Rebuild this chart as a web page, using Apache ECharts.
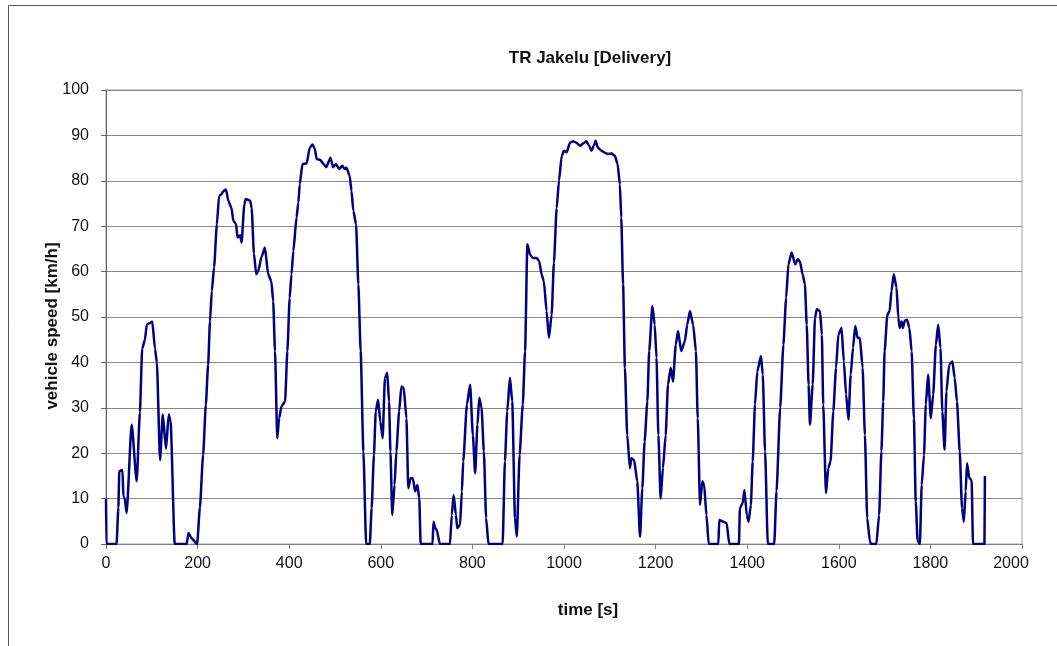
<!DOCTYPE html>
<html>
<head>
<meta charset="utf-8">
<script src="https://cdn.jsdelivr.net/npm/echarts@6/dist/echarts.min.js"></script>
<style>
  html, body { margin: 0; padding: 0; background: #fff; }
  #chart { width: 1057px; height: 646px; }
</style>
</head>
<body>
<div id="chart"></div>
<script>
// Drive cycle: elapsed time [s] and vehicle speed [km/h]
const timeSec = [
  0, 1, 23, 27, 29, 36, 38, 41, 45, 56, 67, 74, 79, 85, 89, 96, 101, 107, 111, 118,
  124, 131, 137, 141, 150, 176, 180, 187, 199, 205, 212, 218, 223, 227, 231, 236, 242, 247, 252, 256,
  262, 267, 274, 278, 284, 287, 293, 296, 302, 305, 315, 318, 323, 328, 332, 340, 347, 354, 361, 365,
  369, 374, 378, 383, 391, 396, 401, 405, 409, 416, 420, 423, 429, 438, 445, 451, 456, 460, 468, 474,
  481, 490, 496, 502, 509, 516, 521, 525, 532, 536, 540, 546, 551, 556, 562, 568, 576, 580, 585, 589,
  594, 599, 604, 609, 614, 618, 621, 625, 630, 634, 640, 645, 650, 656, 660, 665, 670, 675, 680, 684,
  687, 713, 715, 719, 722, 729, 751, 755, 759, 764, 767, 773, 777, 780, 788, 795, 801, 806, 811, 815,
  820, 825, 830, 835, 866, 871, 876, 882, 887, 893, 897, 903, 910, 915, 920, 926, 932, 940, 946, 951,
  956, 962, 967, 973, 978, 984, 989, 995, 1000, 1006, 1013, 1020, 1027, 1035, 1042, 1049, 1055, 1060, 1065, 1069,
  1074, 1082, 1089, 1096, 1104, 1111, 1117, 1122, 1125, 1129, 1133, 1138, 1144, 1147, 1153, 1160, 1166, 1171, 1176, 1182,
  1186, 1193, 1198, 1202, 1206, 1211, 1216, 1222, 1227, 1233, 1238, 1244, 1249, 1256, 1264, 1269, 1275, 1282, 1288, 1292,
  1297, 1302, 1306, 1311, 1316, 1337, 1339, 1348, 1355, 1361, 1382, 1384, 1390, 1394, 1399, 1403, 1408, 1412, 1417, 1422,
  1430, 1434, 1439, 1445, 1459, 1464, 1472, 1479, 1485, 1490, 1497, 1505, 1510, 1515, 1521, 1526, 1530, 1534, 1537, 1543,
  1548, 1552, 1559, 1563, 1566, 1572, 1577, 1582, 1588, 1594, 1599, 1606, 1611, 1616, 1621, 1626, 1631, 1636, 1641, 1646,
  1652, 1657, 1662, 1668, 1671, 1682, 1688, 1693, 1697, 1700, 1706, 1711, 1715, 1720, 1726, 1730, 1733, 1737, 1740, 1744,
  1749, 1754, 1759, 1764, 1768, 1772, 1777, 1781, 1786, 1790, 1795, 1801, 1806, 1812, 1817, 1822, 1826, 1831, 1835, 1841,
  1848, 1853, 1858, 1864, 1869, 1873, 1877, 1880, 1885, 1890, 1893, 1918, 1919
];
const speedKmh = [
  10, 0, 0, 8, 16, 16.3, 10.4, 10, 6.8, 26.3, 13.8, 29, 43, 45, 48.3, 48.7, 49, 43, 40, 18.5,
  28.5, 21, 28.5, 27, 0, 0, 2.4, 1.2, 0, 8, 19.6, 30.7, 39.5, 49, 55.7, 61, 70.4, 76.7, 77, 77.7,
  78.1, 75.6, 74, 71.2, 70.5, 67.5, 68, 66.4, 74.8, 76, 75.6, 74, 64, 59.4, 60, 63.4, 65.3, 59.4, 57.9, 53.5,
  42.5, 23.3, 27.7, 30.3, 31.4, 42.5, 54.2, 59.4, 64.5, 71.9, 75.2, 79.2, 83.7, 83.8, 87.3, 88, 87, 84.8, 84.6, 83.8,
  83, 85.1, 83, 83.7, 82.6, 83.3, 82.6, 82.9, 81.1, 77.8, 73.4, 70.4, 57.2, 42.5, 20.4, 0, 0, 7.9, 19.6, 29.2,
  31.8, 27, 23.3, 36.6, 37.7, 31.4, 20.4, 6.4, 13, 20.4, 29.2, 34.7, 34.4, 27.7, 12.3, 14.5, 14.5, 11.6, 13, 10,
  0, 0, 4.9, 3.5, 3.1, 0, 0, 6.4, 10.8, 6.4, 3.5, 4.2, 11.6, 18.2, 30.7, 35.1, 24, 15.6, 26.3, 32.2,
  30, 20.4, 5.7, 0, 0, 18.2, 29.2, 36.6, 31.4, 5.7, 1.6, 19.6, 30.7, 42.5, 66, 63.7, 63, 63, 62.3, 59.4,
  57.9, 51.3, 45.4, 50.5, 62, 74, 80, 85.5, 86.6, 86.3, 88.4, 88.7, 88.4, 87.7, 88.2, 88.7, 87.7, 86.6, 87.7, 88.8,
  87.3, 86.6, 86.2, 85.9, 86, 85.5, 83.7, 79.2, 71.9, 57.2, 38.8, 24, 16.7, 18.9, 18.5, 13.8, 1.6, 12.3, 22.6, 31.4,
  42.5, 52.4, 48.3, 41, 24, 10, 16.7, 24, 35.1, 38.8, 35.8, 43.9, 46.9, 42.5, 44.7, 48.3, 51.3, 48.3, 42.5, 27.7,
  8.6, 13.8, 13, 6.4, 0, 0, 5.3, 4.9, 4.6, 0, 0, 7.9, 9, 11.9, 6.4, 4.9, 8.6, 18.2, 30.7, 38,
  41.4, 37.3, 20.4, 0, 0, 11.6, 30, 43.9, 54.2, 61.6, 64.2, 61.6, 62.7, 62.3, 59.4, 57.2, 48.3, 35.1, 26.3, 35.1,
  49.8, 51.7, 51.3, 46.1, 30.7, 11.2, 16.7, 18.2, 29.2, 38.8, 46.1, 47.6, 40.2, 32.9, 27.4, 37.3, 43.2, 48, 45.4, 45.4,
  38.8, 24, 5.7, 0.5, 0, 0, 6.4, 20.4, 31.4, 42.5, 50.5, 51.3, 55.7, 59.4, 56.5, 49.8, 47.6, 49, 47.6, 49.2,
  49.4, 47.6, 42.5, 27.7, 9.3, 0.8, 0, 13, 19.6, 30.7, 37.3, 27.7, 32.9, 43.9, 48.3, 43.2, 29.2, 20.8, 33.6, 39.5,
  40.2, 36.6, 31.4, 20.4, 7.9, 4.9, 11.6, 17.8, 14.5, 14.1, 0, 0, 15
];

const xTicks = [0, 200, 400, 600, 800, 1000, 1200, 1400, 1600, 1800, 2000];
const yTicks = [0, 10, 20, 30, 40, 50, 60, 70, 80, 90, 100];

const chartTitle = 'TR Jakelu [Delivery]';
const xName = 'time [s]';
const yName = 'vehicle speed [km/h]';

const points = timeSec.map((t, i) => [t, speedKmh[i]]);
const fontFamily = '"Liberation Sans", Arial, Helvetica, sans-serif';
const xMax = xTicks[xTicks.length - 1];

const chart = echarts.init(document.getElementById('chart'), null, { renderer: 'canvas' });

chart.setOption({
  backgroundColor: '#ffffff',
  animation: false,
  grid: { left: 106, top: 90, right: 35, bottom: 102, show: true, borderColor: '#a0a0a0', borderWidth: 1 },
  xAxis: {
    type: 'value',
    min: xTicks[0],
    max: xMax,
    interval: xTicks[1] - xTicks[0],
    axisLine: { show: true, lineStyle: { color: '#808080', width: 1 } },
    axisTick: { show: true, length: 5, lineStyle: { color: '#808080' } },
    axisLabel: {
      color: '#111', fontFamily, fontSize: 16, margin: 12,
      // the last label is nudged inward so it stays inside the chart frame
      formatter: v => (v === xMax ? '{last|' + v + '}' : String(v)),
      rich: { last: { fontFamily, fontSize: 16, color: '#111', padding: [0, 22, 0, 0] } }
    },
    splitLine: { show: false }
  },
  yAxis: {
    type: 'value',
    min: yTicks[0],
    max: yTicks[yTicks.length - 1],
    interval: yTicks[1] - yTicks[0],
    axisLine: { show: true, lineStyle: { color: '#606060', width: 1 } },
    axisTick: { show: true, length: 5, lineStyle: { color: '#606060' } },
    axisLabel: { color: '#111', fontFamily, fontSize: 16, margin: 17, formatter: v => String(v) },
    splitLine: { show: true, lineStyle: { color: '#8a8a8a', width: 1 } }
  },
  series: [{
    type: 'line',
    data: points,
    showSymbol: false,
    symbol: 'none',
    smooth: 0.2,
    smoothMonotone: 'x',
    lineStyle: { color: '#000080', width: 2.5, join: 'round' },
    z: 5
  }],
  graphic: [
    {
      type: 'rect', silent: true, z: -1,
      shape: { x: 8.5, y: 5.5, width: 1200, height: 800 },
      style: { fill: 'none', stroke: '#555', lineWidth: 1 }
    },
    {
      type: 'text', x: 590, y: 58,
      style: { text: chartTitle, font: 'bold 17px ' + fontFamily, fill: '#111', align: 'center', verticalAlign: 'middle' }
    },
    {
      type: 'text', x: 588, y: 610,
      style: { text: xName, font: 'bold 17px ' + fontFamily, fill: '#111', align: 'center', verticalAlign: 'middle' }
    },
    {
      type: 'text', x: 52, y: 326, rotation: Math.PI / 2,
      style: { text: yName, font: 'bold 17px ' + fontFamily, fill: '#111', align: 'center', verticalAlign: 'middle' }
    }
  ]
});
</script>
</body>
</html>
